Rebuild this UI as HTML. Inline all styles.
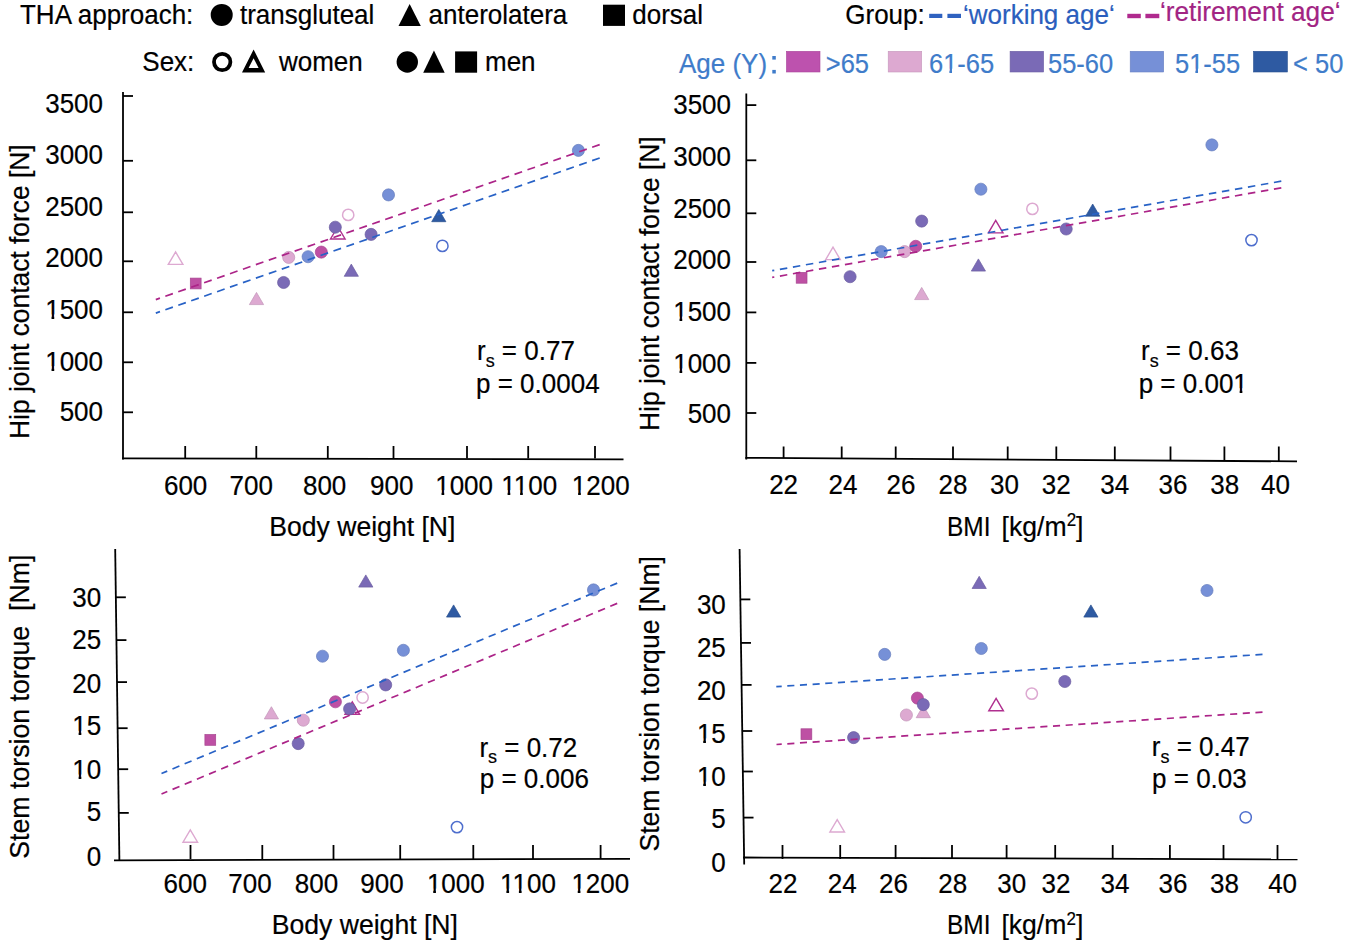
<!DOCTYPE html>
<html><head><meta charset="utf-8"><title>THA hip contact force scatter plots</title>
<style>
html,body{margin:0;padding:0;background:#fff;width:1349px;height:943px;overflow:hidden}
svg{display:block;font-family:"Liberation Sans", sans-serif}
</style></head><body>
<svg width="1349" height="943" viewBox="0 0 1349 943">
<rect width="1349" height="943" fill="#fff"/>
<text transform="translate(20,23.9) scale(1,1.05)" font-size="26" text-anchor="start" fill="#000" stroke="#000" stroke-width="0.2" >THA approach:</text>
<circle cx="221.7" cy="14.9" r="11" fill="#000"/>
<text transform="translate(240,23.9) scale(1,1.05)" font-size="26" text-anchor="start" fill="#000" stroke="#000" stroke-width="0.2" >transgluteal</text>
<polygon points="398.5,25.9 420.8,25.9 409.65,3.9" fill="#000"/>
<text transform="translate(428.6,23.9) scale(1,1.05)" font-size="26" text-anchor="start" fill="#000" stroke="#000" stroke-width="0.2" >anterolatera</text>
<rect x="603" y="4.7" width="22" height="21.2" fill="#000"/>
<text transform="translate(632.3,23.9) scale(1,1.05)" font-size="26" text-anchor="start" fill="#000" stroke="#000" stroke-width="0.2" >dorsal</text>
<text transform="translate(845.3,23.7) scale(1,1.05)" font-size="26" text-anchor="start" fill="#000" stroke="#000" stroke-width="0.2" >Group:</text>
<rect x="929.2" y="13.8" width="13.1" height="4.2" fill="#2F62C0"/>
<rect x="947.4" y="13.8" width="13.6" height="4.2" fill="#2F62C0"/>
<text transform="translate(963,24.3) scale(1,1.05)" font-size="26" text-anchor="start" fill="#2B5EBD" stroke="#2B5EBD" stroke-width="0.2" >‘working age‘</text>
<rect x="1127.3" y="13.8" width="13.5" height="4.4" fill="#B02A8E"/>
<rect x="1145.4" y="13.8" width="13.9" height="4.4" fill="#B02A8E"/>
<text transform="translate(1160,21.2) scale(1,1.05)" font-size="26.2" text-anchor="start" fill="#A22483" stroke="#A22483" stroke-width="0.2" >‘retirement age‘</text>
<text transform="translate(142.3,70.5) scale(1,1.05)" font-size="26" text-anchor="start" fill="#000" stroke="#000" stroke-width="0.2" >Sex:</text>
<circle cx="222.2" cy="62" r="8.2" fill="none" stroke="#000" stroke-width="3.8"/>
<path d="M242,72.4 L265.2,72.4 L253.6,49.5 Z M248.6,68.0 L258.6,68.0 L253.6,58.3 Z" fill="#000" fill-rule="evenodd"/>
<text transform="translate(279,70.5) scale(1,1.05)" font-size="26" text-anchor="start" fill="#000" stroke="#000" stroke-width="0.2" >women</text>
<circle cx="407.3" cy="62" r="10.7" fill="#000"/>
<polygon points="423.2,72.7 444.7,72.7 433.95,50.6" fill="#000"/>
<rect x="455.1" y="51.4" width="22" height="21.3" fill="#000"/>
<text transform="translate(485,70.5) scale(1,1.05)" font-size="26" text-anchor="start" fill="#000" stroke="#000" stroke-width="0.2" >men</text>
<text transform="translate(679,73.3) scale(1,1.05)" font-size="26" text-anchor="start" fill="#3F7CCA" stroke="#3F7CCA" stroke-width="0.2" >Age (Y)</text>
<rect x="772.3" y="56" width="3.5" height="3.6" fill="#3F7CCA"/><rect x="772.3" y="69.9" width="3.5" height="3.6" fill="#3F7CCA"/>
<rect x="786.4" y="51.3" width="33.59999999999993" height="20.7" fill="#BD52AE" stroke="#AA499C" stroke-width="0.6"/>
<rect x="888.1999999999999" y="51.3" width="33.50000000000002" height="20.7" fill="#DDA9D1" stroke="#C698BC" stroke-width="0.6"/>
<rect x="1010.0999999999999" y="51.3" width="33.500000000000135" height="20.7" fill="#7A6AB6" stroke="#6D5FA3" stroke-width="0.6"/>
<rect x="1130.2" y="51.3" width="33.49999999999991" height="20.7" fill="#7690D7" stroke="#6A81C1" stroke-width="0.6"/>
<rect x="1253.5" y="51.3" width="33.9" height="20.7" fill="#2E5AA2" stroke="#295191" stroke-width="0.6"/>
<text transform="translate(825.8,73) scale(1,1.05)" font-size="25.5" text-anchor="start" fill="#3F7CCA" stroke="#3F7CCA" stroke-width="0.2" >&gt;65</text>
<text transform="translate(929,73) scale(1,1.05)" font-size="25.5" text-anchor="start" fill="#3F7CCA" stroke="#3F7CCA" stroke-width="0.2" >61-65</text>
<g transform="translate(929,73) scale(1,1.05)" fill="#fff"><rect x="14.78" y="-4.11" width="5.59" height="5.35"/><rect x="23.02" y="-4.11" width="5.47" height="5.35"/></g>
<text transform="translate(1048,73) scale(1,1.05)" font-size="25.5" text-anchor="start" fill="#3F7CCA" stroke="#3F7CCA" stroke-width="0.2" >55-60</text>
<text transform="translate(1175,73) scale(1,1.05)" font-size="25.5" text-anchor="start" fill="#3F7CCA" stroke="#3F7CCA" stroke-width="0.2" >51-55</text>
<g transform="translate(1175,73) scale(1,1.05)" fill="#fff"><rect x="14.78" y="-4.11" width="5.59" height="5.35"/><rect x="23.02" y="-4.11" width="5.47" height="5.35"/></g>
<text transform="translate(1293,73) scale(1,1.05)" font-size="25.5" text-anchor="start" fill="#3F7CCA" stroke="#3F7CCA" stroke-width="0.2" >&lt; 50</text>
<line x1="123" y1="92" x2="123" y2="459.5" stroke="#000" stroke-width="1.8" />
<line x1="122" y1="458.3" x2="623.5" y2="459.3" stroke="#000" stroke-width="1.8" />
<line x1="123" y1="96" x2="133" y2="96" stroke="#000" stroke-width="1.8" />
<line x1="123" y1="160.8" x2="133" y2="160.8" stroke="#000" stroke-width="1.8" />
<line x1="123" y1="212.3" x2="133" y2="212.3" stroke="#000" stroke-width="1.8" />
<line x1="123" y1="261.3" x2="133" y2="261.3" stroke="#000" stroke-width="1.8" />
<line x1="123" y1="312.3" x2="133" y2="312.3" stroke="#000" stroke-width="1.8" />
<line x1="123" y1="362.3" x2="133" y2="362.3" stroke="#000" stroke-width="1.8" />
<line x1="123" y1="412.3" x2="133" y2="412.3" stroke="#000" stroke-width="1.8" />
<line x1="185.2" y1="446" x2="185.2" y2="458.5" stroke="#000" stroke-width="1.8" />
<line x1="256.3" y1="446" x2="256.3" y2="458.5" stroke="#000" stroke-width="1.8" />
<line x1="327.8" y1="446" x2="327.8" y2="458.5" stroke="#000" stroke-width="1.8" />
<line x1="393.5" y1="446" x2="393.5" y2="458.5" stroke="#000" stroke-width="1.8" />
<line x1="467" y1="446" x2="467" y2="458.5" stroke="#000" stroke-width="1.8" />
<line x1="528.2" y1="446" x2="528.2" y2="458.5" stroke="#000" stroke-width="1.8" />
<line x1="595" y1="446" x2="595" y2="458.5" stroke="#000" stroke-width="1.8" />
<text transform="translate(103,112.6) scale(1,1.05)" font-size="26" text-anchor="end" fill="#000" stroke="#000" stroke-width="0.2" >3500</text>
<text transform="translate(103,164) scale(1,1.05)" font-size="26" text-anchor="end" fill="#000" stroke="#000" stroke-width="0.2" >3000</text>
<text transform="translate(103,216.3) scale(1,1.05)" font-size="26" text-anchor="end" fill="#000" stroke="#000" stroke-width="0.2" >2500</text>
<text transform="translate(103,266.8) scale(1,1.05)" font-size="26" text-anchor="end" fill="#000" stroke="#000" stroke-width="0.2" >2000</text>
<text transform="translate(103,318.8) scale(1,1.05)" font-size="26" text-anchor="end" fill="#000" stroke="#000" stroke-width="0.2" >1500</text>
<g transform="translate(103,318.8) scale(1,1.05)" fill="#fff"><rect x="-57.17" y="-4.19" width="5.70" height="5.46"/><rect x="-48.77" y="-4.19" width="5.57" height="5.46"/></g>
<text transform="translate(103,370.5) scale(1,1.05)" font-size="26" text-anchor="end" fill="#000" stroke="#000" stroke-width="0.2" >1000</text>
<g transform="translate(103,370.5) scale(1,1.05)" fill="#fff"><rect x="-57.17" y="-4.19" width="5.70" height="5.46"/><rect x="-48.77" y="-4.19" width="5.57" height="5.46"/></g>
<text transform="translate(103,421.4) scale(1,1.05)" font-size="26" text-anchor="end" fill="#000" stroke="#000" stroke-width="0.2" >500</text>
<text transform="translate(185.6,494.5) scale(1,1.05)" font-size="26" text-anchor="middle" fill="#000" stroke="#000" stroke-width="0.2" >600</text>
<text transform="translate(251.2,494.5) scale(1,1.05)" font-size="26" text-anchor="middle" fill="#000" stroke="#000" stroke-width="0.2" >700</text>
<text transform="translate(324.6,494.5) scale(1,1.05)" font-size="26" text-anchor="middle" fill="#000" stroke="#000" stroke-width="0.2" >800</text>
<text transform="translate(391.7,494.5) scale(1,1.05)" font-size="26" text-anchor="middle" fill="#000" stroke="#000" stroke-width="0.2" >900</text>
<text transform="translate(464.1,494.5) scale(1,1.05)" font-size="26" text-anchor="middle" fill="#000" stroke="#000" stroke-width="0.2" >1000</text>
<g transform="translate(464.1,494.5) scale(1,1.05)" fill="#fff"><rect x="-28.27" y="-4.19" width="5.70" height="5.46"/><rect x="-19.87" y="-4.19" width="5.57" height="5.46"/></g>
<text transform="translate(529.2,494.5) scale(1,1.05)" font-size="26" text-anchor="middle" fill="#000" stroke="#000" stroke-width="0.2" >1100</text>
<g transform="translate(529.2,494.5) scale(1,1.05)" fill="#fff"><rect x="-27.31" y="-4.19" width="5.70" height="5.46"/><rect x="-18.91" y="-4.19" width="5.57" height="5.46"/><rect x="-14.80" y="-4.19" width="5.70" height="5.46"/><rect x="-6.39" y="-4.19" width="5.57" height="5.46"/></g>
<text transform="translate(600.7,494.5) scale(1,1.05)" font-size="26" text-anchor="middle" fill="#000" stroke="#000" stroke-width="0.2" >1200</text>
<g transform="translate(600.7,494.5) scale(1,1.05)" fill="#fff"><rect x="-28.27" y="-4.19" width="5.70" height="5.46"/><rect x="-19.87" y="-4.19" width="5.57" height="5.46"/></g>
<text transform="translate(269.2,535.5) scale(1,1.05)" font-size="26.6" text-anchor="start" fill="#000" stroke="#000" stroke-width="0.2" >Body weight [N]</text>
<text x="0" y="0" font-size="26.4" text-anchor="start" fill="#000" stroke="#000" stroke-width="0.2" transform="translate(29,439) rotate(-90) scale(1,1.05)">Hip joint contact force [N]</text>
<text transform="translate(477,360.3) scale(1,1.05)" font-size="26" text-anchor="start" fill="#000" stroke="#000" stroke-width="0.2" >r<tspan font-size="18" dy="6">s</tspan><tspan dy="-6"> = 0.77</tspan></text>
<text transform="translate(599.6,392.6) scale(1,1.05)" font-size="26" text-anchor="end" fill="#000" stroke="#000" stroke-width="0.2" >p = 0.0004</text>
<polygon points="168.29,264.4 182.91,264.4 175.6,252.0" fill="none" stroke="#DDA9D1" stroke-width="1.4" stroke-linejoin="miter"/>
<rect x="190.29999999999998" y="278.1" width="10.8" height="10.8" fill="#BE50A4" stroke="#A74690" stroke-width="0.7"/>
<polygon points="249.4,304.59999999999997 263.6,304.59999999999997 256.5,292.4" fill="#DDA9D1" stroke="#C294B7" stroke-width="0.7" stroke-linejoin="round"/>
<circle cx="283.6" cy="282.5" r="6.050000000000001" fill="#7A6AB6" stroke="#6B5DA0" stroke-width="0.7"/>
<circle cx="288.7" cy="257.4" r="6.050000000000001" fill="#DDA9D1" stroke="#C294B7" stroke-width="0.7"/>
<circle cx="308.1" cy="256.7" r="6.050000000000001" fill="#7690D7" stroke="#677EBD" stroke-width="0.7"/>
<circle cx="321.3" cy="252.1" r="6.050000000000001" fill="#BE50A4" stroke="#A74690" stroke-width="0.7"/>
<polygon points="330.49,239.0 345.11,239.0 337.8,226.60000000000002" fill="none" stroke="#B0308F" stroke-width="1.4" stroke-linejoin="miter"/>
<circle cx="335.3" cy="227.2" r="6.050000000000001" fill="#7A6AB6" stroke="#6B5DA0" stroke-width="0.7"/>
<circle cx="348.2" cy="214.9" r="5.65" fill="none" stroke="#DDA9D1" stroke-width="1.5"/>
<polygon points="344.2,276.3 358.40000000000003,276.3 351.3,264.1" fill="#7A6AB6" stroke="#6B5DA0" stroke-width="0.7" stroke-linejoin="round"/>
<circle cx="371.1" cy="234.4" r="6.050000000000001" fill="#7A6AB6" stroke="#6B5DA0" stroke-width="0.7"/>
<circle cx="388.5" cy="194.9" r="6.050000000000001" fill="#7690D7" stroke="#677EBD" stroke-width="0.7"/>
<polygon points="431.7,221.7 445.90000000000003,221.7 438.8,209.5" fill="#2E5AA2" stroke="#284F8E" stroke-width="0.7" stroke-linejoin="round"/>
<circle cx="442.4" cy="245.9" r="5.65" fill="none" stroke="#4E6ECD" stroke-width="1.5"/>
<circle cx="578.4" cy="150.4" r="6.050000000000001" fill="#7690D7" stroke="#677EBD" stroke-width="0.7"/>
<line x1="599.7" y1="144.6" x2="155.8" y2="299.6" stroke="#AC2488" stroke-width="1.7" stroke-dasharray="8 5.7"/>
<line x1="599.7" y1="158.0" x2="155.8" y2="313.1" stroke="#2862C6" stroke-width="1.7" stroke-dasharray="8 5.7"/>
<line x1="746.3" y1="93.5" x2="746.3" y2="459.5" stroke="#000" stroke-width="1.8" />
<line x1="745.3" y1="457.8" x2="1297" y2="461.4" stroke="#000" stroke-width="1.8" />
<line x1="746.3" y1="105.1" x2="756.3" y2="105.1" stroke="#000" stroke-width="1.8" />
<line x1="746.3" y1="160.3" x2="756.3" y2="160.3" stroke="#000" stroke-width="1.8" />
<line x1="746.3" y1="213.3" x2="756.3" y2="213.3" stroke="#000" stroke-width="1.8" />
<line x1="746.3" y1="262" x2="756.3" y2="262" stroke="#000" stroke-width="1.8" />
<line x1="746.3" y1="312.4" x2="756.3" y2="312.4" stroke="#000" stroke-width="1.8" />
<line x1="746.3" y1="362.9" x2="756.3" y2="362.9" stroke="#000" stroke-width="1.8" />
<line x1="746.3" y1="413" x2="756.3" y2="413" stroke="#000" stroke-width="1.8" />
<line x1="783.6" y1="446.5" x2="783.6" y2="458.0499184339315" stroke="#000" stroke-width="1.8" />
<line x1="841.7" y1="446.5" x2="841.7" y2="458.42903752039155" stroke="#000" stroke-width="1.8" />
<line x1="895.7" y1="446.5" x2="895.7" y2="458.78140293637847" stroke="#000" stroke-width="1.8" />
<line x1="953" y1="446.5" x2="953" y2="459.1553017944535" stroke="#000" stroke-width="1.8" />
<line x1="1007.7" y1="446.5" x2="1007.7" y2="459.51223491027736" stroke="#000" stroke-width="1.8" />
<line x1="1056.3" y1="446.5" x2="1056.3" y2="459.8293637846656" stroke="#000" stroke-width="1.8" />
<line x1="1114.8" y1="446.5" x2="1114.8" y2="460.21109298531815" stroke="#000" stroke-width="1.8" />
<line x1="1170.5" y1="446.5" x2="1170.5" y2="460.57455138662317" stroke="#000" stroke-width="1.8" />
<line x1="1224.4" y1="446.5" x2="1224.4" y2="460.926264274062" stroke="#000" stroke-width="1.8" />
<line x1="1278.8" y1="446.5" x2="1278.8" y2="461.28123980424147" stroke="#000" stroke-width="1.8" />
<text transform="translate(731,114.1) scale(1,1.05)" font-size="26" text-anchor="end" fill="#000" stroke="#000" stroke-width="0.2" >3500</text>
<text transform="translate(731,166.1) scale(1,1.05)" font-size="26" text-anchor="end" fill="#000" stroke="#000" stroke-width="0.2" >3000</text>
<text transform="translate(731,218.1) scale(1,1.05)" font-size="26" text-anchor="end" fill="#000" stroke="#000" stroke-width="0.2" >2500</text>
<text transform="translate(731,269.0) scale(1,1.05)" font-size="26" text-anchor="end" fill="#000" stroke="#000" stroke-width="0.2" >2000</text>
<text transform="translate(731,320.9) scale(1,1.05)" font-size="26" text-anchor="end" fill="#000" stroke="#000" stroke-width="0.2" >1500</text>
<g transform="translate(731,320.9) scale(1,1.05)" fill="#fff"><rect x="-57.17" y="-4.19" width="5.70" height="5.46"/><rect x="-48.77" y="-4.19" width="5.57" height="5.46"/></g>
<text transform="translate(731,372.9) scale(1,1.05)" font-size="26" text-anchor="end" fill="#000" stroke="#000" stroke-width="0.2" >1000</text>
<g transform="translate(731,372.9) scale(1,1.05)" fill="#fff"><rect x="-57.17" y="-4.19" width="5.70" height="5.46"/><rect x="-48.77" y="-4.19" width="5.57" height="5.46"/></g>
<text transform="translate(731,423.3) scale(1,1.05)" font-size="26" text-anchor="end" fill="#000" stroke="#000" stroke-width="0.2" >500</text>
<text transform="translate(783.6,494) scale(1,1.05)" font-size="26" text-anchor="middle" fill="#000" stroke="#000" stroke-width="0.2" >22</text>
<text transform="translate(843,494) scale(1,1.05)" font-size="26" text-anchor="middle" fill="#000" stroke="#000" stroke-width="0.2" >24</text>
<text transform="translate(901,494) scale(1,1.05)" font-size="26" text-anchor="middle" fill="#000" stroke="#000" stroke-width="0.2" >26</text>
<text transform="translate(953,494) scale(1,1.05)" font-size="26" text-anchor="middle" fill="#000" stroke="#000" stroke-width="0.2" >28</text>
<text transform="translate(1004.4,494) scale(1,1.05)" font-size="26" text-anchor="middle" fill="#000" stroke="#000" stroke-width="0.2" >30</text>
<text transform="translate(1056.3,494) scale(1,1.05)" font-size="26" text-anchor="middle" fill="#000" stroke="#000" stroke-width="0.2" >32</text>
<text transform="translate(1114.8,494) scale(1,1.05)" font-size="26" text-anchor="middle" fill="#000" stroke="#000" stroke-width="0.2" >34</text>
<text transform="translate(1173,494) scale(1,1.05)" font-size="26" text-anchor="middle" fill="#000" stroke="#000" stroke-width="0.2" >36</text>
<text transform="translate(1224.8,494) scale(1,1.05)" font-size="26" text-anchor="middle" fill="#000" stroke="#000" stroke-width="0.2" >38</text>
<text transform="translate(1275.5,494) scale(1,1.05)" font-size="26" text-anchor="middle" fill="#000" stroke="#000" stroke-width="0.2" >40</text>
<text transform="translate(947,535.9) scale(0.92,1.05)" font-size="26.6" text-anchor="start" fill="#000" stroke="#000" stroke-width="0.2" >BMI</text>
<text transform="translate(1001.6,535.9) scale(1,1.05)" font-size="26.6" text-anchor="start" fill="#000" stroke="#000" stroke-width="0.2" >[kg/m<tspan font-size="17" dy="-9">2</tspan><tspan dy="9">]</tspan></text>
<text x="0" y="0" font-size="26.4" text-anchor="start" fill="#000" stroke="#000" stroke-width="0.2" transform="translate(659,431) rotate(-90) scale(1,1.05)">Hip joint contact force [N]</text>
<text transform="translate(1141.0,360.3) scale(1,1.05)" font-size="26" text-anchor="start" fill="#000" stroke="#000" stroke-width="0.2" >r<tspan font-size="18" dy="6">s</tspan><tspan dy="-6"> = 0.63</tspan></text>
<text transform="translate(1247.8,392.6) scale(1,1.05)" font-size="26" text-anchor="end" fill="#000" stroke="#000" stroke-width="0.2" >p = 0.001</text>
<g transform="translate(1247.8,392.6) scale(1,1.05)" fill="#fff"><rect x="-13.84" y="-4.19" width="5.70" height="5.46"/><rect x="-5.44" y="-4.19" width="5.57" height="5.46"/></g>
<rect x="796.2" y="272.40000000000003" width="10.8" height="10.8" fill="#BE50A4" stroke="#A74690" stroke-width="0.7"/>
<polygon points="825.69,259.6 840.31,259.6 833,247.20000000000002" fill="none" stroke="#DDA9D1" stroke-width="1.4" stroke-linejoin="miter"/>
<circle cx="850.1" cy="276.7" r="6.050000000000001" fill="#7A6AB6" stroke="#6B5DA0" stroke-width="0.7"/>
<circle cx="881.2" cy="251.6" r="6.050000000000001" fill="#7690D7" stroke="#677EBD" stroke-width="0.7"/>
<circle cx="904.6" cy="251.6" r="6.050000000000001" fill="#DDA9D1" stroke="#C294B7" stroke-width="0.7"/>
<circle cx="915.7" cy="246.3" r="6.050000000000001" fill="#BE50A4" stroke="#A74690" stroke-width="0.7"/>
<circle cx="921.7" cy="221.1" r="6.050000000000001" fill="#7A6AB6" stroke="#6B5DA0" stroke-width="0.7"/>
<polygon points="914.6,299.59999999999997 928.8000000000001,299.59999999999997 921.7,287.4" fill="#DDA9D1" stroke="#C294B7" stroke-width="0.7" stroke-linejoin="round"/>
<polygon points="971.3,271.09999999999997 985.5,271.09999999999997 978.4,258.9" fill="#7A6AB6" stroke="#6B5DA0" stroke-width="0.7" stroke-linejoin="round"/>
<polygon points="988.3900000000001,232.89999999999998 1003.01,232.89999999999998 995.7,220.5" fill="none" stroke="#B0308F" stroke-width="1.4" stroke-linejoin="miter"/>
<circle cx="1032.4" cy="208.9" r="5.65" fill="none" stroke="#DDA9D1" stroke-width="1.5"/>
<circle cx="1066.2" cy="229" r="6.050000000000001" fill="#7A6AB6" stroke="#6B5DA0" stroke-width="0.7"/>
<polygon points="1085.6000000000001,216.2 1099.8,216.2 1092.7,204.0" fill="#2E5AA2" stroke="#284F8E" stroke-width="0.7" stroke-linejoin="round"/>
<circle cx="1211.9" cy="144.9" r="6.050000000000001" fill="#7690D7" stroke="#677EBD" stroke-width="0.7"/>
<circle cx="980.9" cy="189.2" r="6.050000000000001" fill="#7690D7" stroke="#677EBD" stroke-width="0.7"/>
<circle cx="1251.5" cy="240.1" r="5.65" fill="none" stroke="#4E6ECD" stroke-width="1.5"/>
<line x1="1281.3" y1="181.2" x2="772.2" y2="270.7" stroke="#2862C6" stroke-width="1.7" stroke-dasharray="7.5 5.7"/>
<line x1="1281.3" y1="187.8" x2="772.2" y2="277.4" stroke="#AC2488" stroke-width="1.7" stroke-dasharray="7.5 5.7"/>
<line x1="115.2" y1="549" x2="119.4" y2="861" stroke="#000" stroke-width="1.8" />
<line x1="114" y1="860.4" x2="630" y2="858.8" stroke="#000" stroke-width="1.8" />
<line x1="115.85228295819935" y1="597.3" x2="125.85228295819935" y2="597.3" stroke="#000" stroke-width="1.8" />
<line x1="116.43028938906753" y1="640.1" x2="126.43028938906753" y2="640.1" stroke="#000" stroke-width="1.8" />
<line x1="116.9974919614148" y1="682.1" x2="126.9974919614148" y2="682.1" stroke="#000" stroke-width="1.8" />
<line x1="117.62006430868168" y1="728.2" x2="127.62006430868168" y2="728.2" stroke="#000" stroke-width="1.8" />
<line x1="118.17376205787782" y1="769.2" x2="128.1737620578778" y2="769.2" stroke="#000" stroke-width="1.8" />
<line x1="118.763922829582" y1="812.9" x2="128.763922829582" y2="812.9" stroke="#000" stroke-width="1.8" />
<line x1="190.5" y1="845" x2="190.5" y2="859" stroke="#000" stroke-width="1.8" />
<line x1="262.3" y1="845" x2="262.3" y2="859" stroke="#000" stroke-width="1.8" />
<line x1="333.5" y1="845" x2="333.5" y2="859" stroke="#000" stroke-width="1.8" />
<line x1="400.2" y1="845" x2="400.2" y2="859" stroke="#000" stroke-width="1.8" />
<line x1="473.3" y1="845" x2="473.3" y2="859" stroke="#000" stroke-width="1.8" />
<line x1="533" y1="845" x2="533" y2="859" stroke="#000" stroke-width="1.8" />
<line x1="600.6" y1="845" x2="600.6" y2="859" stroke="#000" stroke-width="1.8" />
<text transform="translate(101.2,606.5999999999999) scale(1,1.05)" font-size="26" text-anchor="end" fill="#000" stroke="#000" stroke-width="0.2" >30</text>
<text transform="translate(101.2,649.0) scale(1,1.05)" font-size="26" text-anchor="end" fill="#000" stroke="#000" stroke-width="0.2" >25</text>
<text transform="translate(101.2,692.9) scale(1,1.05)" font-size="26" text-anchor="end" fill="#000" stroke="#000" stroke-width="0.2" >20</text>
<text transform="translate(101.2,735.1999999999999) scale(1,1.05)" font-size="26" text-anchor="end" fill="#000" stroke="#000" stroke-width="0.2" >15</text>
<g transform="translate(101.2,735.1999999999999) scale(1,1.05)" fill="#fff"><rect x="-28.27" y="-4.19" width="5.70" height="5.46"/><rect x="-19.87" y="-4.19" width="5.57" height="5.46"/></g>
<text transform="translate(101.2,778.9) scale(1,1.05)" font-size="26" text-anchor="end" fill="#000" stroke="#000" stroke-width="0.2" >10</text>
<g transform="translate(101.2,778.9) scale(1,1.05)" fill="#fff"><rect x="-28.27" y="-4.19" width="5.70" height="5.46"/><rect x="-19.87" y="-4.19" width="5.57" height="5.46"/></g>
<text transform="translate(101.2,821.0) scale(1,1.05)" font-size="26" text-anchor="end" fill="#000" stroke="#000" stroke-width="0.2" >5</text>
<text transform="translate(101.2,865.7) scale(1,1.05)" font-size="26" text-anchor="end" fill="#000" stroke="#000" stroke-width="0.2" >0</text>
<text transform="translate(185.2,893) scale(1,1.05)" font-size="26" text-anchor="middle" fill="#000" stroke="#000" stroke-width="0.2" >600</text>
<text transform="translate(250,893) scale(1,1.05)" font-size="26" text-anchor="middle" fill="#000" stroke="#000" stroke-width="0.2" >700</text>
<text transform="translate(316.4,893) scale(1,1.05)" font-size="26" text-anchor="middle" fill="#000" stroke="#000" stroke-width="0.2" >800</text>
<text transform="translate(382,893) scale(1,1.05)" font-size="26" text-anchor="middle" fill="#000" stroke="#000" stroke-width="0.2" >900</text>
<text transform="translate(455.8,893) scale(1,1.05)" font-size="26" text-anchor="middle" fill="#000" stroke="#000" stroke-width="0.2" >1000</text>
<g transform="translate(455.8,893) scale(1,1.05)" fill="#fff"><rect x="-28.27" y="-4.19" width="5.70" height="5.46"/><rect x="-19.87" y="-4.19" width="5.57" height="5.46"/></g>
<text transform="translate(528,893) scale(1,1.05)" font-size="26" text-anchor="middle" fill="#000" stroke="#000" stroke-width="0.2" >1100</text>
<g transform="translate(528,893) scale(1,1.05)" fill="#fff"><rect x="-27.31" y="-4.19" width="5.70" height="5.46"/><rect x="-18.91" y="-4.19" width="5.57" height="5.46"/><rect x="-14.80" y="-4.19" width="5.70" height="5.46"/><rect x="-6.39" y="-4.19" width="5.57" height="5.46"/></g>
<text transform="translate(600.3,893) scale(1,1.05)" font-size="26" text-anchor="middle" fill="#000" stroke="#000" stroke-width="0.2" >1200</text>
<g transform="translate(600.3,893) scale(1,1.05)" fill="#fff"><rect x="-28.27" y="-4.19" width="5.70" height="5.46"/><rect x="-19.87" y="-4.19" width="5.57" height="5.46"/></g>
<text transform="translate(271.7,933.5) scale(1,1.05)" font-size="26.6" text-anchor="start" fill="#000" stroke="#000" stroke-width="0.2" >Body weight [N]</text>
<text x="0" y="0" font-size="26.7" text-anchor="start" fill="#000" stroke="#000" stroke-width="0.2" transform="translate(29.3,858.7) rotate(-90) scale(1,1.05)">Stem torsion torque&#160; [Nm]</text>
<text transform="translate(479.4,756.9) scale(1,1.05)" font-size="26" text-anchor="start" fill="#000" stroke="#000" stroke-width="0.2" >r<tspan font-size="18" dy="6">s</tspan><tspan dy="-6"> = 0.72</tspan></text>
<text transform="translate(588.9,788.3) scale(1,1.05)" font-size="26" text-anchor="end" fill="#000" stroke="#000" stroke-width="0.2" >p = 0.006</text>
<polygon points="182.99,842.2 197.61,842.2 190.3,829.8" fill="none" stroke="#DDA9D1" stroke-width="1.4" stroke-linejoin="miter"/>
<rect x="204.9" y="734.5" width="10.8" height="10.8" fill="#BE50A4" stroke="#A74690" stroke-width="0.7"/>
<polygon points="264.29999999999995,718.9000000000001 278.5,718.9000000000001 271.4,706.7" fill="#DDA9D1" stroke="#C294B7" stroke-width="0.7" stroke-linejoin="round"/>
<circle cx="298.2" cy="743.6" r="6.050000000000001" fill="#7A6AB6" stroke="#6B5DA0" stroke-width="0.7"/>
<circle cx="303.3" cy="720.2" r="6.050000000000001" fill="#DDA9D1" stroke="#C294B7" stroke-width="0.7"/>
<circle cx="322.5" cy="656.2" r="6.050000000000001" fill="#7690D7" stroke="#677EBD" stroke-width="0.7"/>
<circle cx="335.4" cy="701.8" r="6.050000000000001" fill="#BE50A4" stroke="#A74690" stroke-width="0.7"/>
<polygon points="344.99,714.2 359.61,714.2 352.3,701.8" fill="none" stroke="#B0308F" stroke-width="1.4" stroke-linejoin="miter"/>
<circle cx="349.6" cy="708.9" r="6.050000000000001" fill="#7A6AB6" stroke="#6B5DA0" stroke-width="0.7"/>
<circle cx="362.6" cy="697.5" r="5.65" fill="none" stroke="#DDA9D1" stroke-width="1.5"/>
<polygon points="358.7,587.1 372.90000000000003,587.1 365.8,574.9" fill="#7A6AB6" stroke="#6B5DA0" stroke-width="0.7" stroke-linejoin="round"/>
<circle cx="385.7" cy="684.9" r="6.050000000000001" fill="#7A6AB6" stroke="#6B5DA0" stroke-width="0.7"/>
<circle cx="403.4" cy="650.3" r="6.050000000000001" fill="#7690D7" stroke="#677EBD" stroke-width="0.7"/>
<polygon points="446.5,617.1 460.70000000000005,617.1 453.6,604.9" fill="#2E5AA2" stroke="#284F8E" stroke-width="0.7" stroke-linejoin="round"/>
<circle cx="457" cy="827.1" r="5.65" fill="none" stroke="#4E6ECD" stroke-width="1.5"/>
<circle cx="593.5" cy="589.9" r="6.050000000000001" fill="#7690D7" stroke="#677EBD" stroke-width="0.7"/>
<line x1="617.2" y1="583.1" x2="161.5" y2="773.5" stroke="#2862C6" stroke-width="1.7" stroke-dasharray="7.5 5.68"/>
<line x1="617.2" y1="603.4" x2="161.5" y2="794" stroke="#AC2488" stroke-width="1.7" stroke-dasharray="7.5 5.68"/>
<line x1="739.6" y1="549" x2="744.2" y2="864.5" stroke="#000" stroke-width="1.8" />
<line x1="743" y1="857.5" x2="1297.5" y2="859.4" stroke="#000" stroke-width="1.8" />
<line x1="740.336" y1="599.4" x2="750.336" y2="599.4" stroke="#000" stroke-width="1.8" />
<line x1="740.9712380952382" y1="642.9" x2="750.9712380952382" y2="642.9" stroke="#000" stroke-width="1.8" />
<line x1="741.5845714285715" y1="684.9" x2="751.5845714285715" y2="684.9" stroke="#000" stroke-width="1.8" />
<line x1="742.2577777777778" y1="731" x2="752.2577777777778" y2="731" stroke="#000" stroke-width="1.8" />
<line x1="742.8492063492064" y1="771.5" x2="752.8492063492064" y2="771.5" stroke="#000" stroke-width="1.8" />
<line x1="743.5224126984127" y1="817.6" x2="753.5224126984127" y2="817.6" stroke="#000" stroke-width="1.8" />
<line x1="782.5" y1="845" x2="782.5" y2="859" stroke="#000" stroke-width="1.8" />
<line x1="840.2" y1="845" x2="840.2" y2="859" stroke="#000" stroke-width="1.8" />
<line x1="895.6" y1="845" x2="895.6" y2="859" stroke="#000" stroke-width="1.8" />
<line x1="952" y1="845" x2="952" y2="859" stroke="#000" stroke-width="1.8" />
<line x1="1006.6" y1="845" x2="1006.6" y2="859" stroke="#000" stroke-width="1.8" />
<line x1="1055.2" y1="845" x2="1055.2" y2="859" stroke="#000" stroke-width="1.8" />
<line x1="1112.7" y1="845" x2="1112.7" y2="859" stroke="#000" stroke-width="1.8" />
<line x1="1169.9" y1="845" x2="1169.9" y2="859" stroke="#000" stroke-width="1.8" />
<line x1="1223.5" y1="845" x2="1223.5" y2="859" stroke="#000" stroke-width="1.8" />
<line x1="1277.5" y1="845" x2="1277.5" y2="859" stroke="#000" stroke-width="1.8" />
<text transform="translate(725.8,613.5) scale(1,1.05)" font-size="26" text-anchor="end" fill="#000" stroke="#000" stroke-width="0.2" >30</text>
<text transform="translate(725.8,656.5) scale(1,1.05)" font-size="26" text-anchor="end" fill="#000" stroke="#000" stroke-width="0.2" >25</text>
<text transform="translate(725.8,699.8) scale(1,1.05)" font-size="26" text-anchor="end" fill="#000" stroke="#000" stroke-width="0.2" >20</text>
<text transform="translate(725.8,742.8) scale(1,1.05)" font-size="26" text-anchor="end" fill="#000" stroke="#000" stroke-width="0.2" >15</text>
<g transform="translate(725.8,742.8) scale(1,1.05)" fill="#fff"><rect x="-28.27" y="-4.19" width="5.70" height="5.46"/><rect x="-19.87" y="-4.19" width="5.57" height="5.46"/></g>
<text transform="translate(725.8,786.0) scale(1,1.05)" font-size="26" text-anchor="end" fill="#000" stroke="#000" stroke-width="0.2" >10</text>
<g transform="translate(725.8,786.0) scale(1,1.05)" fill="#fff"><rect x="-28.27" y="-4.19" width="5.70" height="5.46"/><rect x="-19.87" y="-4.19" width="5.57" height="5.46"/></g>
<text transform="translate(725.8,827.9) scale(1,1.05)" font-size="26" text-anchor="end" fill="#000" stroke="#000" stroke-width="0.2" >5</text>
<text transform="translate(725.8,871.5999999999999) scale(1,1.05)" font-size="26" text-anchor="end" fill="#000" stroke="#000" stroke-width="0.2" >0</text>
<text transform="translate(783,893.3) scale(1,1.05)" font-size="26" text-anchor="middle" fill="#000" stroke="#000" stroke-width="0.2" >22</text>
<text transform="translate(842.3,893.3) scale(1,1.05)" font-size="26" text-anchor="middle" fill="#000" stroke="#000" stroke-width="0.2" >24</text>
<text transform="translate(893.5,893.3) scale(1,1.05)" font-size="26" text-anchor="middle" fill="#000" stroke="#000" stroke-width="0.2" >26</text>
<text transform="translate(952.8,893.3) scale(1,1.05)" font-size="26" text-anchor="middle" fill="#000" stroke="#000" stroke-width="0.2" >28</text>
<text transform="translate(1011.7,893.3) scale(1,1.05)" font-size="26" text-anchor="middle" fill="#000" stroke="#000" stroke-width="0.2" >30</text>
<text transform="translate(1056,893.3) scale(1,1.05)" font-size="26" text-anchor="middle" fill="#000" stroke="#000" stroke-width="0.2" >32</text>
<text transform="translate(1114.9,893.3) scale(1,1.05)" font-size="26" text-anchor="middle" fill="#000" stroke="#000" stroke-width="0.2" >34</text>
<text transform="translate(1173,893.3) scale(1,1.05)" font-size="26" text-anchor="middle" fill="#000" stroke="#000" stroke-width="0.2" >36</text>
<text transform="translate(1224.5,893.3) scale(1,1.05)" font-size="26" text-anchor="middle" fill="#000" stroke="#000" stroke-width="0.2" >38</text>
<text transform="translate(1282.6,893.3) scale(1,1.05)" font-size="26" text-anchor="middle" fill="#000" stroke="#000" stroke-width="0.2" >40</text>
<text transform="translate(947,934) scale(0.92,1.05)" font-size="26.6" text-anchor="start" fill="#000" stroke="#000" stroke-width="0.2" >BMI</text>
<text transform="translate(1001.4,934) scale(1,1.05)" font-size="26.6" text-anchor="start" fill="#000" stroke="#000" stroke-width="0.2" >[kg/m<tspan font-size="17" dy="-9">2</tspan><tspan dy="9">]</tspan></text>
<text x="0" y="0" font-size="26.6" text-anchor="start" fill="#000" stroke="#000" stroke-width="0.2" transform="translate(659.3,851.6) rotate(-90) scale(1,1.05)">Stem torsion torque [Nm]</text>
<text transform="translate(1151.8,756.4) scale(1,1.05)" font-size="26" text-anchor="start" fill="#000" stroke="#000" stroke-width="0.2" >r<tspan font-size="18" dy="6">s</tspan><tspan dy="-6"> = 0.47</tspan></text>
<text transform="translate(1246.7,788.2) scale(1,1.05)" font-size="26" text-anchor="end" fill="#000" stroke="#000" stroke-width="0.2" >p = 0.03</text>
<rect x="801.0" y="728.8000000000001" width="10.8" height="10.8" fill="#BE50A4" stroke="#A74690" stroke-width="0.7"/>
<polygon points="829.8900000000001,832.0 844.51,832.0 837.2,819.5999999999999" fill="none" stroke="#DDA9D1" stroke-width="1.4" stroke-linejoin="miter"/>
<circle cx="853.6" cy="737.6" r="6.050000000000001" fill="#7A6AB6" stroke="#6B5DA0" stroke-width="0.7"/>
<circle cx="884.7" cy="654.4" r="6.050000000000001" fill="#7690D7" stroke="#677EBD" stroke-width="0.7"/>
<circle cx="906.4" cy="715" r="6.050000000000001" fill="#DDA9D1" stroke="#C294B7" stroke-width="0.7"/>
<polygon points="916.1999999999999,717.7 930.4,717.7 923.3,705.5" fill="#DDA9D1" stroke="#C294B7" stroke-width="0.7" stroke-linejoin="round"/>
<circle cx="917.4" cy="698.1" r="6.050000000000001" fill="#BE50A4" stroke="#A74690" stroke-width="0.7"/>
<circle cx="923.3" cy="704.6" r="6.050000000000001" fill="#7A6AB6" stroke="#6B5DA0" stroke-width="0.7"/>
<polygon points="972.1,588.5 986.3000000000001,588.5 979.2,576.3" fill="#7A6AB6" stroke="#6B5DA0" stroke-width="0.7" stroke-linejoin="round"/>
<circle cx="981.3" cy="648.5" r="6.050000000000001" fill="#7690D7" stroke="#677EBD" stroke-width="0.7"/>
<polygon points="988.7900000000001,710.8000000000001 1003.41,710.8000000000001 996.1,698.4" fill="none" stroke="#B0308F" stroke-width="1.4" stroke-linejoin="miter"/>
<circle cx="1031.8" cy="693.6" r="5.65" fill="none" stroke="#DDA9D1" stroke-width="1.5"/>
<circle cx="1064.8" cy="681.5" r="6.050000000000001" fill="#7A6AB6" stroke="#6B5DA0" stroke-width="0.7"/>
<polygon points="1083.8000000000002,617.1 1098.0,617.1 1090.9,604.9" fill="#2E5AA2" stroke="#284F8E" stroke-width="0.7" stroke-linejoin="round"/>
<circle cx="1207" cy="590.5" r="6.050000000000001" fill="#7690D7" stroke="#677EBD" stroke-width="0.7"/>
<circle cx="1245.7" cy="817.3" r="5.65" fill="none" stroke="#4E6ECD" stroke-width="1.5"/>
<line x1="1262.5" y1="654.4" x2="776.3" y2="686.7" stroke="#2862C6" stroke-width="1.7" stroke-dasharray="7.1 5.58"/>
<line x1="1262.5" y1="712.1" x2="776.5" y2="744.5" stroke="#AC2488" stroke-width="1.7" stroke-dasharray="7.1 5.58"/>
</svg>
</body></html>
